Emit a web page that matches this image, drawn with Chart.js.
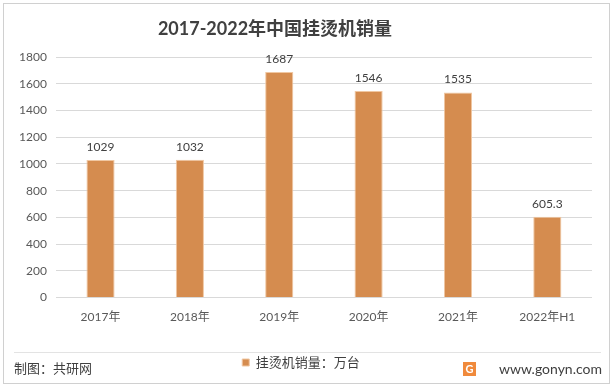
<!DOCTYPE html>
<html>
<head>
<meta charset="utf-8">
<script src="https://cdn.jsdelivr.net/npm/chart.js@4.4.0/dist/chart.umd.min.js"></script>
<style>
  body { margin: 0; background: #fff; }
  #wrap { width: 614px; height: 388px; position: relative; }
</style>
</head>
<body>
<div id="wrap"><canvas id="salesChart"></canvas></div>
<script>
// categories and values
const years = ['2017年', '2018年', '2019年', '2020年', '2021年', '2022年H1'];
const sales = [1029, 1032, 1687, 1546, 1535, 605.3];
const yTicks = [0, 200, 400, 600, 800, 1000, 1200, 1400, 1600, 1800];
const titleText = '2017-2022年中国挂烫机销量';

const FONT = 'Lato, "Noto Sans CJK SC", sans-serif';
const TEXT = '#595959';

// value labels above bars
const valueLabels = {
  id: 'valueLabels',
  afterDatasetsDraw(chart) {
    const ctx = chart.ctx;
    const meta = chart.getDatasetMeta(0);
    ctx.save();
    ctx.font = '12px ' + FONT;
    ctx.fillStyle = '#404040';
    ctx.textAlign = 'center';
    ctx.textBaseline = 'bottom';
    meta.data.forEach((bar, i) => {
      ctx.fillText(String(sales[i]), bar.x, bar.y - 7);
    });
    ctx.restore();
  }
};

// title, frame, separator line, source and site text
const frame = {
  id: 'frame',
  afterDraw(chart) {
    const ctx = chart.ctx;
    ctx.save();
    ctx.font = 'bold 18px ' + FONT;
    ctx.fillStyle = '#404040';
    ctx.textAlign = 'center';
    ctx.textBaseline = 'middle';
    ctx.fillText(titleText, 275, 29);

    ctx.strokeStyle = '#d0d0d0';
    ctx.lineWidth = 1;
    ctx.strokeRect(3.5, 3.5, 606, 380);
    ctx.strokeStyle = '#e3e3e3';
    ctx.beginPath();
    ctx.moveTo(14, 352.5);
    ctx.lineTo(601, 352.5);
    ctx.stroke();

    ctx.font = '13px ' + FONT;
    ctx.fillStyle = '#404040';
    ctx.textAlign = 'left';
    ctx.fillText('制图：共研网', 14, 369);

    // small logo
    ctx.fillStyle = '#f08a3c';
    ctx.fillRect(463, 362, 13, 14);
    ctx.fillStyle = '#fff';
    ctx.font = 'bold 11px ' + FONT;
    ctx.textAlign = 'center';
    ctx.fillText('G', 469.5, 369.5);

    ctx.font = '14px ' + FONT;
    ctx.fillStyle = '#404040';
    ctx.textAlign = 'right';
    ctx.fillText('www.gonyn.com', 602, 369);
    ctx.restore();
  }
};

new Chart(document.getElementById('salesChart'), {
  type: 'bar',
  data: {
    labels: years,
    datasets: [{
      label: '挂烫机销量：万台',
      data: sales,
      backgroundColor: '#D58C4F',
      borderColor: '#F0C7A2',
      borderWidth: 1,
      categoryPercentage: 1,
      barPercentage: 0.315
    }]
  },
  options: {
    responsive: true,
    maintainAspectRatio: false,
    animation: false,
    layout: { padding: { left: 10, right: 22, top: 57, bottom: 9 } },
    plugins: {
      title: { display: false },
      legend: {
        position: 'bottom',
        labels: {
          boxWidth: 7,
          boxHeight: 7,
          color: '#404040',
          font: { family: FONT, size: 13 },
          padding: 20
        }
      },
      tooltip: { enabled: false }
    },
    scales: {
      x: {
        grid: { display: false, drawTicks: false },
        border: { display: false },
        ticks: { color: TEXT, font: { family: FONT, size: 12 }, padding: 12 }
      },
      y: {
        min: 0,
        max: 1800,
        afterBuildTicks(axis) { axis.ticks = yTicks.map(v => ({ value: v })); },
        grid: { color: '#d9d9d9', drawTicks: false },
        border: { display: false },
        ticks: {
          color: TEXT,
          font: { family: FONT, size: 12 },
          padding: 9,
          callback: v => String(v)
        }
      }
    }
  },
  plugins: [valueLabels, frame]
});
</script>
</body>
</html>
